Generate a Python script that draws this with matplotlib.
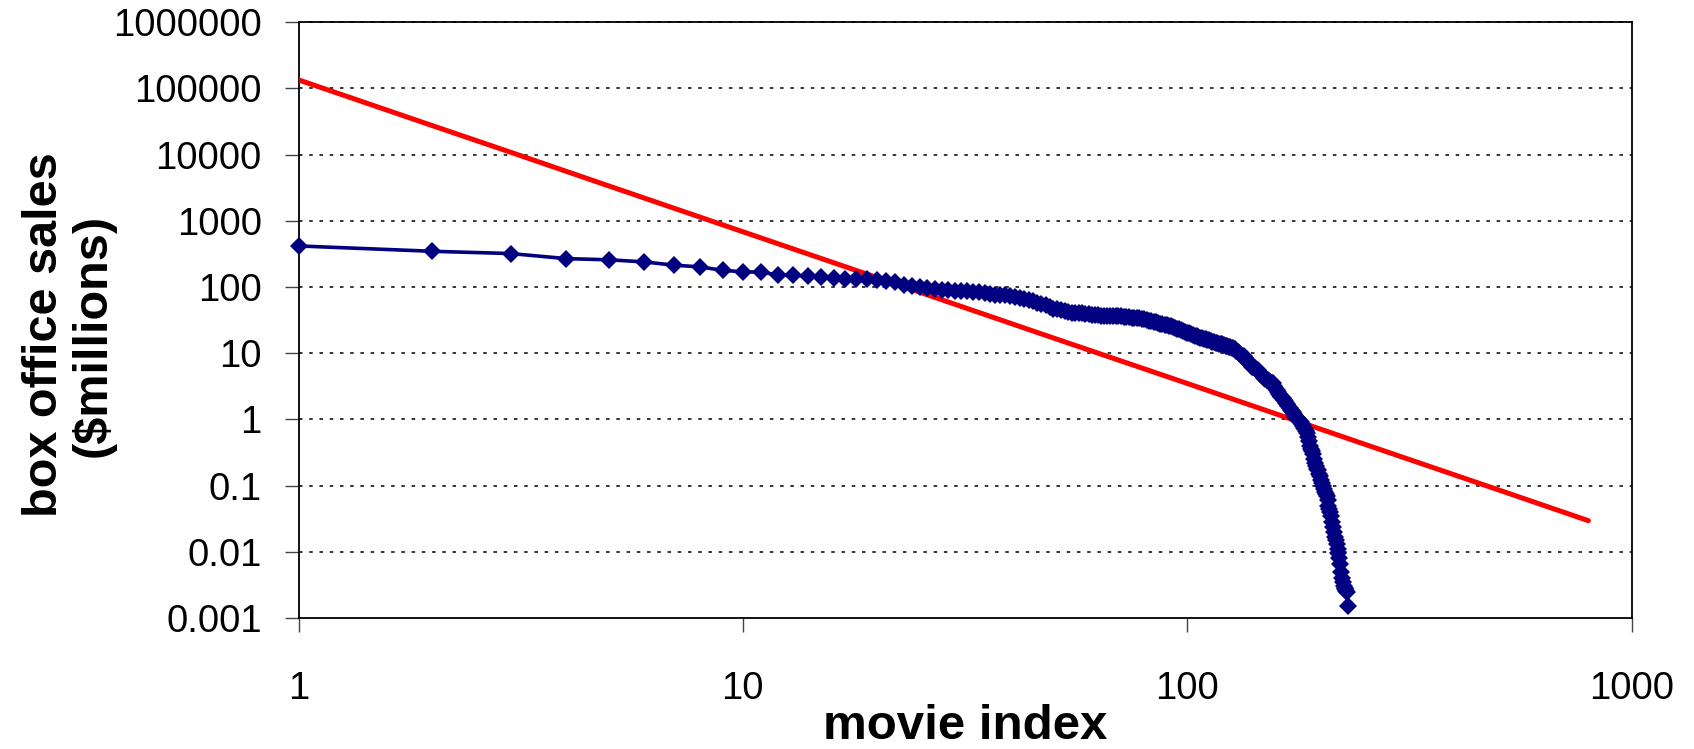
import matplotlib
matplotlib.use('Agg')
import matplotlib.pyplot as plt
from matplotlib.ticker import NullLocator

# ── Data ──────────────────────────────────────────────────────────────────────
# box office sales ($millions) by rank, movie index 1..230
sales = [
    418, 347, 321, 269, 258, 240, 214, 202, 179, 170,
    168, 152, 150, 147, 143, 135, 134, 133, 131, 127,
    124, 119, 108, 104, 100, 97, 95, 90, 89, 88,
    87, 86, 85, 83, 81, 79, 77, 76, 75, 72,
    70, 68, 67, 63, 61, 58, 56, 53, 50, 47,
    46, 45, 43, 42, 41, 41, 40, 40, 39, 39,
    38, 38, 38, 37, 37, 37, 37, 37, 36, 36,
    36, 35, 35, 35, 34, 34, 34, 34, 33, 33,
    32, 31, 31, 30, 29.6, 29, 28, 28, 27, 26.5,
    26, 25.5, 25, 24, 23.5, 23, 22.5, 22, 21, 20.5,
    20, 19.5, 19, 18.5, 18, 17.5, 17, 16.8, 16.5, 16.2,
    16, 15.6, 15.3, 15, 14.8, 14.5, 14.2, 14, 13.8, 13.6,
    13.3, 13, 12.8, 12.6, 12.4, 12.2, 12, 11.5, 11, 10.5,
    10, 9.5, 9.2, 9, 8.4, 8, 7.5, 7, 6.6, 6.3,
    6.1, 6, 5.8, 5.5, 5.2, 5, 4.7, 4.5, 4.3, 4.1,
    4, 3.9, 3.8, 3.7, 3.6, 3.5, 3.2, 3, 2.8, 2.6,
    2.4, 2.3, 2.2, 2.1, 2, 1.9, 1.8, 1.7, 1.6, 1.5,
    1.4, 1.35, 1.3, 1.2, 1.1, 1.08, 1.05, 1, 0.95, 0.9,
    0.85, 0.8, 0.75, 0.72, 0.68, 0.63, 0.55, 0.47, 0.4, 0.36,
    0.33, 0.3, 0.25, 0.22, 0.2, 0.18, 0.17, 0.15, 0.14, 0.12,
    0.11, 0.1, 0.09, 0.08, 0.075, 0.07, 0.06, 0.05, 0.045, 0.04,
    0.035, 0.028, 0.024, 0.02, 0.017, 0.015, 0.013, 0.011, 0.0096, 0.008,
    0.0065, 0.005, 0.004, 0.0035, 0.003, 0.0028, 0.0027, 0.0026, 0.0025, 0.0015,
]
movie_index = list(range(1, len(sales) + 1))

# power-law fit line
fit_index = [1, 2, 3, 5, 10, 20, 30, 50, 100, 200, 300, 500, 800]
fit_sales = [135000, 27500, 10900, 3360, 685, 140, 55, 17, 3.5, 0.71, 0.28, 0.087, 0.0295]

y_ticks = [0.001, 0.01, 0.1, 1, 10, 100, 1000, 10000, 100000, 1000000]
y_tick_labels = ['0.001', '0.01', '0.1', '1', '10', '100', '1000', '10000',
                 '100000', '1000000']
x_ticks = [1, 10, 100, 1000]
x_tick_labels = ['1', '10', '100', '1000']

# ── Figure ────────────────────────────────────────────────────────────────────
plt.rcParams['font.family'] = ['Liberation Sans', 'DejaVu Sans']

W, H = 1694, 749
fig = plt.figure(figsize=(W / 100, H / 100), dpi=100)
ax = fig.add_axes([298.5 / W, 1 - 618 / H, (1631.5 - 298.5) / W, (618 - 22.3) / H])

ax.set_xscale('log')
ax.set_yscale('log')
ax.set_xlim(1, 1000)
ax.set_ylim(0.001, 1000000)

# dotted horizontal gridlines at each decade (top one sits on the frame)
for yv in y_ticks[1:]:
    ax.axhline(yv, color='black', lw=1.1, linestyle=(0, (2.3, 4.4)),
               zorder=5 if yv == y_ticks[-1] else 1, clip_on=False)

ax.plot(fit_index, fit_sales, color='#FF0000', lw=3.6, zorder=3,
        solid_capstyle='round')
ax.plot(movie_index, sales, color='#000080', lw=2.6, marker='D',
        markersize=9.3, markeredgewidth=0, zorder=4, clip_on=False)

ax.set_xticks(x_ticks)
ax.set_xticklabels(x_tick_labels)
ax.set_yticks(y_ticks)
ax.set_yticklabels(y_tick_labels)
ax.xaxis.set_minor_locator(NullLocator())
ax.yaxis.set_minor_locator(NullLocator())

ax.tick_params(axis='both', direction='out', length=10, width=1.0,
               color='#444444', labelsize=27.5)
ax.tick_params(axis='x', pad=28)
ax.tick_params(axis='y', pad=16.5)

for side in ['left', 'bottom', 'right', 'top']:
    ax.spines[side].set_color('black')
    ax.spines[side].set_linewidth(1.3)

ax.set_xlabel('movie index', fontsize=35.5, fontweight='bold', va='baseline')
ax.xaxis.set_label_coords(0.5, -0.2035)

ax.set_ylabel('box office sales\n($millions)', fontsize=35, fontweight='bold',
              va='center', ha='center', linespacing=1.1)
ax.yaxis.set_label_coords(-0.172, 0.475)

fig.savefig('out.png', dpi=100, facecolor='white')
plt.close(fig)
